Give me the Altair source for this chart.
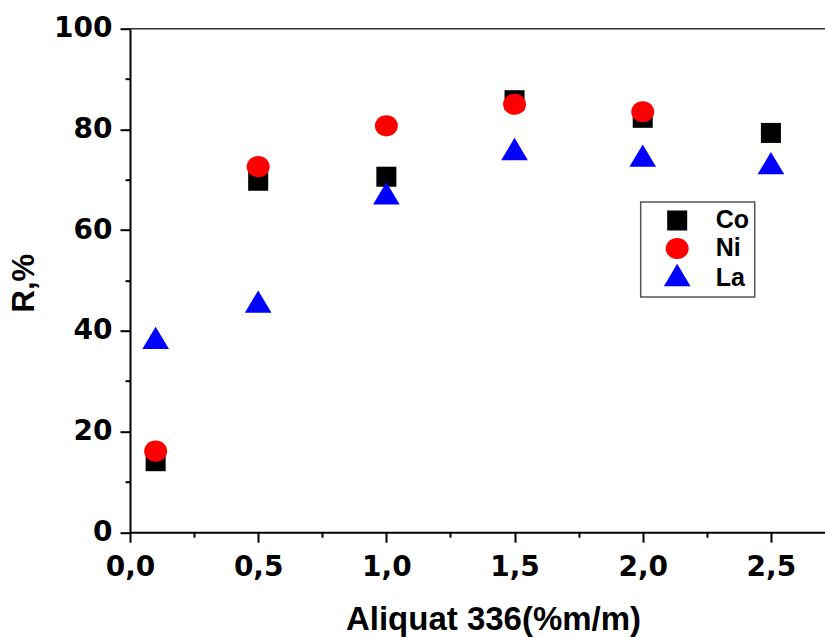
import altair as alt
import pandas as pd

# Extraction efficiency R (%) against Aliquat 336 content (% m/m)
conc = [0.1, 0.5, 1.0, 1.5, 2.0, 2.5]
co_vals = [14.1, 69.8, 70.6, 85.8, 82.3, 79.3]
ni_vals = [16.1, 72.6, 80.7, 85.0, 83.5]
la_vals = [37.9, 45.1, 66.6, 75.4, 74.1, 72.6]

metals = ["Co", "Ni", "La"]
colors = ["#000000", "#FF0000", "#0000FF"]
# marker outlines in unit coordinates (scaled by the symbol size)
shapes = [
    "M-0.75,-0.75L0.75,-0.75L0.75,0.75L-0.75,0.75Z",
    "M-0.86,0A0.86,0.79 0 1,0 0.86,0A0.86,0.79 0 1,0 -0.86,0Z",
    "M0,-1.1L1,0.577L-1,0.577Z",
]

x_major = [0.0, 0.5, 1.0, 1.5, 2.0, 2.5]
x_minor = [0.25, 0.75, 1.25, 1.75, 2.25]
y_major = [0, 20, 40, 60, 80, 100]
y_minor = [10, 30, 50, 70, 90]

rows = []
for name, vals in zip(metals, [co_vals, ni_vals, la_vals]):
    for c, v in zip(conc, vals):
        rows.append({"conc": c, "R": v, "metal": name})
df = pd.DataFrame(rows)

x_scale = alt.Scale(domain=[0, 2.711], nice=False, zero=False)
y_scale = alt.Scale(domain=[0, 100], nice=False)

tick_font = dict(
    labelFont="DejaVu Sans", labelFontSize=28, labelFontWeight="bold",
    labelColor="#000000", domainColor="#000000", domainWidth=2,
    tickColor="#000000", tickWidth=2, grid=False, labelFlush=False,
    labelOverlap=False,
)

points = alt.Chart(df).mark_point(filled=True, opacity=1, strokeWidth=0, size=713).encode(
    x=alt.X("conc:Q", scale=x_scale, axis=alt.Axis(
        orient="bottom", values=x_major, tickSize=10, labelPadding=11,
        labelExpr="replace(format(datum.value, '.1f'), '.', ',')",
        title="Aliquat 336(%m/m)", titleFont="Liberation Sans", titleFontSize=33,
        titleFontWeight="bold", titleColor="#000000", titleX=363, titleY=97,
        titleBaseline="alphabetic", titleAlign="center", **tick_font)),
    y=alt.Y("R:Q", scale=y_scale, axis=alt.Axis(
        orient="left", values=y_major, tickSize=10, labelPadding=8, format="d",
        title="R,%", titleFont="Liberation Sans", titleFontSize=31,
        titleFontWeight="bold", titleColor="#000000", titleX=-96.7, titleY=254,
        titleBaseline="alphabetic", titleAlign="center", titleAngle=270, **tick_font)),
    color=alt.Color("metal:N", scale=alt.Scale(domain=metals, range=colors), legend=alt.Legend(
        title=None, orient="none", legendX=510.7, legendY=173.3)),
    shape=alt.Shape("metal:N", scale=alt.Scale(domain=metals, range=shapes)),
)

minor = alt.Chart(df).mark_point(opacity=0).encode(
    x=alt.X("conc:Q", scale=x_scale, axis=alt.Axis(
        orient="bottom", values=x_minor, tickSize=5, labels=False, domain=False,
        title=None, tickColor="#000000", tickWidth=2, grid=False)),
    y=alt.Y("R:Q", scale=y_scale, axis=alt.Axis(
        orient="left", values=y_minor, tickSize=5, labels=False, domain=False,
        title=None, tickColor="#000000", tickWidth=2, grid=False)),
)

top_frame = alt.Chart(pd.DataFrame({"R": [100]})).mark_rule(
    color="#333333", strokeWidth=1.5
).encode(y=alt.Y("R:Q", scale=y_scale, axis=None))

chart = alt.layer(minor, top_frame, points).resolve_axis(
    x="independent", y="independent"
).properties(
    width=695, height=503.5,
    autosize=alt.AutoSizeParams(type="none"),
    padding={"left": 130, "top": 28.7, "right": 0, "bottom": 105},
).configure_view(stroke=None).configure_legend(
    padding=5, strokeColor="#555555", strokeWidth=1.5, fillColor="#FFFFFF",
    symbolOffset=18, labelOffset=25, labelFont="Liberation Sans", labelFontSize=25,
    labelFontWeight="bold", labelColor="#000000", rowPadding=1, symbolSize=713,
    symbolStrokeWidth=0, symbolOpacity=1, symbolType="circle",
)

chart.save("out.html", embed_options={"renderer": "svg", "actions": False})
